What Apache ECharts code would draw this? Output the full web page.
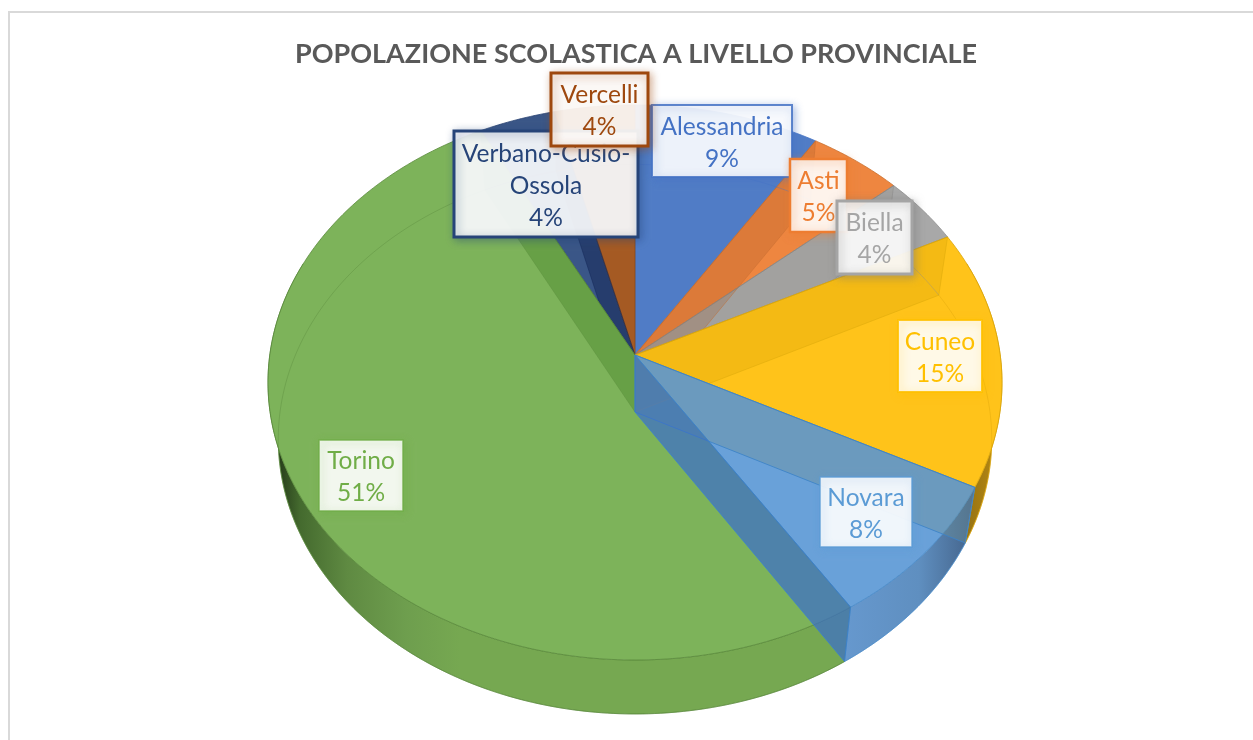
<!DOCTYPE html>
<html>
<head>
<meta charset="utf-8">
<style>html,body{margin:0;padding:0;background:#fff}#c{width:1253px;height:740px}</style>
<script src="https://cdn.jsdelivr.net/npm/echarts@6/dist/echarts.min.js"></script>
</head>
<body>
<div id="c"></div>
<script>
// --- data ---
const titleText = 'POPOLAZIONE SCOLASTICA A LIVELLO PROVINCIALE';
const categories = ['Alessandria','Asti','Biella','Cuneo','Novara','Torino','Verbano-Cusio-Ossola','Vercelli'];
const values = [9.0,4.6,4.0,15.0,8.3,51.5,3.7,3.9];
const labelLines = [['Alessandria'],['Asti'],['Biella'],['Cuneo'],['Novara'],['Torino'],['Verbano-Cusio-','Ossola'],['Vercelli']];

// --- styles ---
const lineColors = ['#4472C4','#ED7D31','#A5A5A5','#FFC000','#5B9BD5','#70AD47','#264478','#9E480E'];
const topColors  = ['#507CC6','#EE8640','#A8A8A8','#FFC31A','#69A1D9','#7DB35A','#3A5687','#A55A23'];
const rimColors  = ['#4472C4','#C9702F','#8f8f8f','#D9A40A','#4A8BC9','#5A8A3C','#2A4272','#8A4A18'];
const wallStops = [
  null,null,null,
  [[0,'#8F6E14'],[1,'#B98A12']],
  [[0,'#6698CE'],[0.6,'#5F8FC0'],[1,'#46678F']],
  [[0,'#263C1A'],[0.12,'#446A2E'],[0.38,'#5F8A42'],[0.7,'#6E9E4E'],[1,'#76A851']],
  null,null
];
const wallSpan = [null,null,null,[960,1000],[845,968],[278,460],null,null];
const startCut = [null,'rgba(160,80,30,0.22)','rgba(120,110,90,0.10)','rgba(200,150,0,0.20)','rgba(110,145,150,0.40)',null,null,null];
const endCut   = [null,null,null,null,'rgba(58,109,204,0.70)','rgba(63,125,33,0.35)','rgba(10,25,70,0.40)',null];
const cutStroke= [null,'rgba(200,110,50,0.5)','rgba(130,130,130,0.4)','rgba(220,170,10,0.5)','rgba(60,130,200,0.85)','rgba(90,140,60,0.4)','rgba(20,40,90,0.5)',null];
// painter's layer of each slice's top face; its cut faces sit one layer above it
const topLayer = [20,20,20,22,24,22,20,20];
// label boxes: x, y, w, h, border width
const labelBoxes = [
  [652,105,140,72,2],[790,159,57,73,2.5],[837,201,75,73,3],[898,320,84,72,2],
  [820,477,92,70,1.5],[319,440,84,71,1.5],[454,131,184,106,3],[551,73,97,73,3]
];
const labelFont = '24.5px Lato, Carlito, sans-serif';
const shadowColors = ['rgba(68,114,196,0.5)','rgba(237,125,49,0.5)','rgba(120,120,120,0.5)','rgba(255,192,0,0.5)','rgba(91,155,213,0.5)','rgba(112,173,71,0.5)','rgba(38,68,120,0.45)','rgba(158,72,14,0.45)'];

// --- projection of the pie disc ---
const geo = {cx:635, a:365.2, q:274.8, p:0.099, topY:355, botY:412, botA:0.972, botQ:0.99};
function pt(phi, bottom){
  const w = 1 + geo.p*Math.cos(phi);
  const sa = bottom ? geo.botA : 1, sq = bottom ? geo.botQ : 1;
  const y0 = bottom ? geo.botY : geo.topY;
  return [geo.cx + sa*geo.a*Math.sin(phi)/w, y0 - sq*geo.q*Math.cos(phi)/w];
}
function arc(p0,p1,bottom){
  const n = Math.max(2,Math.ceil((p1-p0)/0.015)), r=[];
  for(let i=0;i<=n;i++) r.push(pt(p0+(p1-p0)*i/n,bottom));
  return r;
}
const total = values.reduce((s,v)=>s+v,0);
const starts = []; values.reduce((s,v,i)=>{starts[i]=s;return s+v;},0);
const toAng = v => v/total*2*Math.PI;

function cutQuad(phi,fill,stroke,z2){
  return {type:'polygon',z2,silent:true,shape:{points:[[geo.cx,geo.topY],pt(phi,false),pt(phi,true),[geo.cx,geo.botY]]},
    style:{fill,stroke,lineWidth:1}};
}
function renderItem(params,api){
  const i = params.dataIndex, v = api.value(0);
  const p0 = toAng(starts[i]), p1 = p0 + toAng(v);
  const kids = [];
  // outer wall (front part only shows: the top face covers the rest)
  if(wallStops[i]){
    const top = arc(Math.max(p0,Math.PI/2-0.35),Math.min(p1,3*Math.PI/2+0.35),false);
    const bot = arc(Math.max(p0,Math.PI/2-0.35),Math.min(p1,3*Math.PI/2+0.35),true);
    kids.push({type:'polygon',z2:10+(i===4?5:0),silent:true,shape:{points:top.concat(bot.reverse())},
      style:{fill:{type:'linear',x:wallSpan[i][0],y:0,x2:wallSpan[i][1],y2:0,global:true,
        colorStops:wallStops[i].map(s=>({offset:s[0],color:s[1]}))},stroke:rimColors[i],lineWidth:0.7}});
  }
  // top face
  kids.push({type:'polygon',z2:topLayer[i],silent:true,shape:{points:[[geo.cx,geo.topY]].concat(arc(p0,p1,false))},
    style:{fill:topColors[i],stroke:rimColors[i],lineWidth:0.8}});
  // cut faces seen through the translucent disc
  if(startCut[i]) kids.push(cutQuad(p0,startCut[i],cutStroke[i],topLayer[i]+1));
  if(endCut[i]) kids.push(cutQuad(p1,endCut[i],cutStroke[i],topLayer[i]+1));
  // faint far rim of the lower face
  kids.push({type:'polyline',z2:40,silent:true,shape:{points:arc(p0,p1,true)},
    style:{fill:null,stroke:rimColors[i],lineWidth:0.7,opacity:0.55}});
  // data label
  const b = labelBoxes[i];
  kids.push({type:'rect',z2:100+2*i,silent:true,shape:{x:b[0],y:b[1],width:b[2],height:b[3]},
    style:{fill:'rgba(255,255,255,0.9)',stroke:lineColors[i],lineWidth:b[4],
      strokeOpacity:b[4]<2.5?0.85:1,shadowBlur:8,shadowColor:shadowColors[i],shadowOffsetX:2,shadowOffsetY:2}});
  kids.push({type:'text',z2:101+2*i,silent:true,style:{
    text:labelLines[i].concat([Math.round(v/total*100)+'%']).join('\n'),
    x:b[0]+b[2]/2,y:b[1]+b[3]/2+2,align:'center',verticalAlign:'middle',
    fill:lineColors[i],font:labelFont,lineHeight:32}});
  return {type:'group',children:kids};
}

const chart = echarts.init(document.getElementById('c'),null,{renderer:'canvas'});
chart.setOption({
  animation:false,
  backgroundColor:'#ffffff',
  title:{text:titleText,left:631,top:36,textAlign:'center',
    textStyle:{color:'#595959',fontFamily:'Lato, Carlito, sans-serif',fontWeight:'bold',fontSize:27}},
  graphic:[
    {type:'line',silent:true,shape:{x1:8,y1:12,x2:1253,y2:12},style:{stroke:'#d9d9d9',lineWidth:2}},
    {type:'line',silent:true,shape:{x1:9,y1:11,x2:9,y2:740},style:{stroke:'#d9d9d9',lineWidth:2}}
  ],
  series:[{
    type:'custom',coordinateSystem:'none',renderItem,clip:false,
    data:categories.map((name,i)=>({name,value:[values[i]]}))
  }]
});
</script>
</body>
</html>
